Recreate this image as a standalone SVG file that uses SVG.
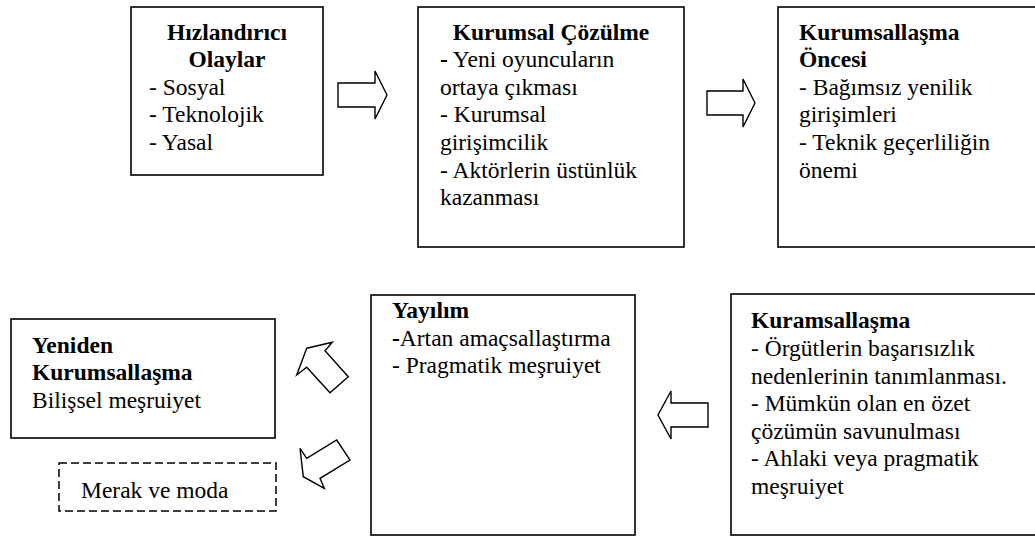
<svg xmlns="http://www.w3.org/2000/svg" width="1035" height="538" viewBox="0 0 1035 538" font-family="'Liberation Serif', 'DejaVu Serif', serif">
<style>
text{font-family:'Liberation Serif','DejaVu Serif',serif;font-size:23.5px;fill:#000}
.b{font-weight:bold}
.c{text-anchor:middle}
.box{fill:#fff;stroke:#000;stroke-width:1.6}
.dash{fill:#fff;stroke:#000;stroke-width:1.5;stroke-dasharray:8 4}
.arr{fill:#fff;stroke:#000;stroke-width:1.4;stroke-linejoin:miter}
</style>
<rect width="1035" height="538" fill="#fff"/>
<g id="hizlandirici">
<rect class="box" x="131" y="7" width="192" height="168"/>
<text class="b c" x="227" y="39.5">Hızlandırıcı</text>
<text class="b c" x="227" y="67.1">Olaylar</text>
<text x="149" y="94.7">- Sosyal</text>
<text x="149" y="122.3">- Teknolojik</text>
<text x="149" y="149.9">- Yasal</text>
</g>
<g id="cozulme">
<rect class="box" x="418" y="7" width="266" height="240"/>
<text class="b c" x="551" y="39.5">Kurumsal Çözülme</text>
<text x="440" y="67.1"><tspan class="b">-</tspan> Yeni oyuncuların</text>
<text x="440" y="94.7">ortaya çıkması</text>
<text x="440" y="122.3">- Kurumsal</text>
<text x="440" y="149.9">girişimcilik</text>
<text x="440" y="177.5">- Aktörlerin üstünlük</text>
<text x="440" y="205.1">kazanması</text>
</g>
<g id="oncesi">
<rect class="box" x="778" y="7" width="270" height="240"/>
<text class="b" x="799" y="39.5">Kurumsallaşma</text>
<text class="b" x="799" y="67.1">Öncesi</text>
<text x="799" y="94.7">- Bağımsız yenilik</text>
<text x="799" y="122.3">girişimleri</text>
<text x="799" y="149.9">- Teknik geçerliliğin</text>
<text x="799" y="177.5">önemi</text>
</g>
<g id="yeniden">
<rect class="box" x="11" y="319" width="264" height="119"/>
<text class="b" x="32" y="352.7">Yeniden</text>
<text class="b" x="32" y="380.3">Kurumsallaşma</text>
<text x="32" y="407.9">Bilişsel meşruiyet</text>
</g>
<g id="merak">
<rect class="dash" x="59" y="463" width="217" height="48"/>
<text x="81" y="498">Merak ve moda</text>
</g>
<g id="yayilim">
<rect class="box" x="371" y="295" width="264" height="240"/>
<text class="b" x="392" y="318.3">Yayılım</text>
<text x="392" y="345.7"><tspan class="b">-</tspan>Artan amaçsallaştırma</text>
<text x="392" y="372.7">- Pragmatik meşruiyet</text>
</g>
<g id="kuramsallasma">
<rect class="box" x="731" y="294" width="320" height="241"/>
<text class="b" x="751" y="328.3">Kuramsallaşma</text>
<text x="751" y="356">- Örgütlerin başarısızlık</text>
<text x="751" y="383.5">nedenlerinin tanımlanması.</text>
<text x="751" y="411">- Mümkün olan en özet</text>
<text x="751" y="438.5">çözümün savunulması</text>
<text x="751" y="466">- Ahlaki veya pragmatik</text>
<text x="751" y="493.5">meşruiyet</text>
</g>
<g id="connectors">
<polygon class="arr" points="338,83 375,83 375,71 387,95 375,119 375,107 338,107"/>
<polygon class="arr" points="707,91 743,91 743,79 755,103 743,127 743,115 707,115"/>
<polygon class="arr" points="708,403 671,403 671,391 658,415 671,439 671,427 708,427"/>
<polygon class="arr" points="306.7,348.3 332.3,342.3 325,350.7 348.3,376.7 330,392.7 306.7,367.3 296.7,375"/>
<polygon class="arr" points="300,448.3 306.7,458.3 336.7,440 350,460 320,478.3 324.3,488.3 303.3,476.7"/>
</g>
</svg>
